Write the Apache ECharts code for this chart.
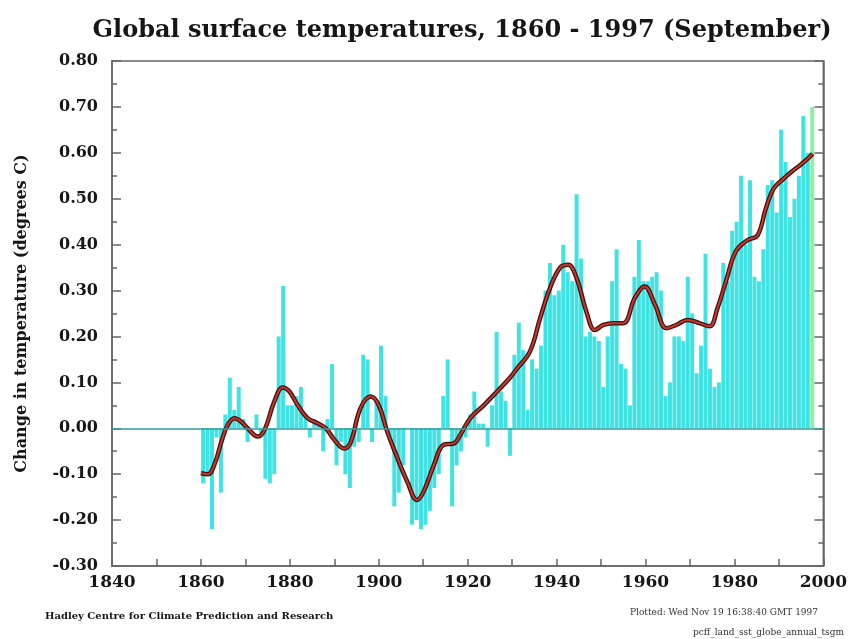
<!DOCTYPE html>
<html>
<head>
<meta charset="utf-8">
<script src="https://cdn.jsdelivr.net/npm/echarts@6/dist/echarts.min.js"></script>
<style>html,body{margin:0;padding:0;background:#fff}#c{width:850px;height:639px}</style>
</head>
<body>
<div id="c"></div>
<script>
// ---- data ----
const firstYear = 1860;
const anomalies = [
  -0.12, -0.10, -0.22, -0.02, -0.14, 0.03, 0.11, 0.04, 0.09, 0.02,
  -0.03, 0.00, 0.03, -0.01, -0.11, -0.12, -0.10, 0.20, 0.31, 0.05,
  0.05, 0.07, 0.09, 0.03, -0.02, 0.02, 0.01, -0.05, 0.02, 0.14,
  -0.08, -0.03, -0.10, -0.13, -0.04, -0.03, 0.16, 0.15, -0.03, 0.06,
  0.18, 0.07, -0.02, -0.17, -0.14, -0.08, 0.00, -0.21, -0.20, -0.22,
  -0.21, -0.18, -0.13, -0.10, 0.07, 0.15, -0.17, -0.08, -0.05, -0.02,
  0.03, 0.08, 0.01, 0.01, -0.04, 0.05, 0.21, 0.08, 0.06, -0.06,
  0.16, 0.23, 0.17, 0.04, 0.15, 0.13, 0.18, 0.30, 0.36, 0.29,
  0.30, 0.40, 0.34, 0.32, 0.51, 0.37, 0.20, 0.21, 0.20, 0.19,
  0.09, 0.20, 0.32, 0.39, 0.14, 0.13, 0.05, 0.33, 0.41, 0.32,
  0.32, 0.33, 0.34, 0.30, 0.07, 0.10, 0.20, 0.20, 0.19, 0.33,
  0.25, 0.12, 0.18, 0.38, 0.13, 0.09, 0.10, 0.36, 0.32, 0.43,
  0.45, 0.55, 0.40, 0.54, 0.33, 0.32, 0.39, 0.53, 0.54, 0.47,
  0.65, 0.58, 0.46, 0.50, 0.55, 0.68, 0.60, 0.70
];
const partialYear = 1997; // drawn in green (data to September)

const curveYears = [
  1860, 1861.6, 1863, 1864.6, 1866, 1867.6, 1869, 1870.5, 1872.8, 1874.3,
  1876.5, 1878.4, 1879.9, 1881.8, 1884, 1886.2, 1888.1, 1890, 1892.2, 1893.7,
  1895.9, 1898.2, 1900, 1901.9, 1904.2, 1906.4, 1908.6, 1910.1, 1912.4, 1914.6,
  1916.9, 1918.3, 1920.6, 1923.6, 1926.6, 1929.5, 1931.1, 1934, 1936.3, 1938.5,
  1940.8, 1942.6, 1944.5, 1946.7, 1948.6, 1950.5, 1952.7, 1955, 1957.6, 1959.8,
  1962.1, 1964.7, 1966.9, 1969.5, 1972.1, 1974.4, 1976.2, 1978.1, 1980.3, 1983,
  1985.2, 1987.1, 1988.9, 1991.2, 1993, 1994.9, 1996.8, 1997.6
];
const curveValues = [
  -0.098, -0.100, -0.080, -0.030, 0.007, 0.022, 0.015, 0.000, -0.018, -0.004,
  0.058, 0.089, 0.080, 0.050, 0.022, 0.011, 0.000, -0.025, -0.044, -0.030,
  0.044, 0.069, 0.050, -0.007, -0.065, -0.116, -0.156, -0.138, -0.080, -0.036,
  -0.033, -0.015, 0.022, 0.050, 0.080, 0.110, 0.130, 0.167, 0.240, 0.305,
  0.350, 0.356, 0.327, 0.254, 0.214, 0.225, 0.229, 0.229, 0.284, 0.309,
  0.270, 0.218, 0.225, 0.236, 0.229, 0.222, 0.262, 0.320, 0.385, 0.410,
  0.420, 0.480, 0.523, 0.545, 0.560, 0.574, 0.590, 0.598
];

const xTicks = { min: 1840, max: 2000, interval: 20 };
const yTicks = { min: -0.3, max: 0.8, interval: 0.1 };

const titleText = 'Global surface temperatures, 1860 - 1997 (September)';
const yName = 'Change in temperature (degrees C)';
const footLeft = 'Hadley Centre for Climate Prediction and Research';
const footRight1 = 'Plotted: Wed Nov 19 16:38:40 GMT 1997';
const footRight2 = 'pcff_land_sst_globe_annual_tsgm';

// ---- chart ----
const FONT = '"DejaVu Serif", "Liberation Serif", serif';
const TXT = '#161616';
const AX = '#666666';

const barData = anomalies.map((v, i) => {
  const yr = firstYear + i;
  const item = { value: [yr + 0.5, v] };
  if (yr === partialYear) item.itemStyle = { color: '#8ef0a6' };
  return item;
});
const curveData = curveYears.map((y, i) => [y, curveValues[i]]);

const chart = echarts.init(document.getElementById('c'), null, { renderer: 'canvas' });
const mkLine = () => ({ show: true, onZero: false, lineStyle: { color: AX, width: 1.5 } });

chart.setOption({
  backgroundColor: '#ffffff',
  animation: false,
  title: [
    { text: titleText, left: 457, top: 14, textAlign: 'center',
      textStyle: { fontFamily: FONT, fontWeight: 'bold', fontSize: 24, color: TXT } },
    { text: footLeft, left: 40, top: 606,
      textStyle: { fontFamily: FONT, fontWeight: 'bold', fontSize: 10, color: TXT } },
    { text: footRight1, left: 625, top: 603,
      textStyle: { fontFamily: FONT, fontWeight: 'normal', fontSize: 9, color: '#333' } },
    { text: footRight2, left: 688, top: 623,
      textStyle: { fontFamily: FONT, fontWeight: 'normal', fontSize: 9, color: '#333' } }
  ],
  grid: { left: 112, right: 26, top: 61, bottom: 73, containLabel: false,
    show: true, borderColor: AX, borderWidth: 1.5, backgroundColor: 'transparent' },
  xAxis: [
    { type: 'value', min: xTicks.min, max: xTicks.max, interval: xTicks.interval,
      position: 'bottom', axisLine: mkLine(),
      axisTick: { show: true, inside: true, length: 7, lineStyle: { color: AX, width: 1.5 } },
      minorTick: { show: true, splitNumber: 2, length: 7, lineStyle: { color: AX, width: 1.5 } },
      splitLine: { show: false },
      axisLabel: { margin: 8, fontFamily: FONT, fontWeight: 'bold', fontSize: 17, color: TXT,
        formatter: v => String(v) } }
  ],
  yAxis: [
    { type: 'value', min: yTicks.min, max: yTicks.max, interval: yTicks.interval,
      position: 'left', axisLine: mkLine(),
      axisTick: { show: true, inside: true, length: 9, lineStyle: { color: AX, width: 1.5 } },
      minorTick: { show: true, splitNumber: 2, length: 5, lineStyle: { color: AX, width: 1.5 } },
      splitLine: { show: false },
      name: yName, nameLocation: 'middle', nameGap: 82, nameRotate: 90,
      nameTextStyle: { fontFamily: FONT, fontWeight: 'bold', fontSize: 16, color: TXT },
      axisLabel: { margin: 14, fontFamily: FONT, fontWeight: 'bold', fontSize: 16, color: TXT,
        formatter: v => v.toFixed(2) } },
    { type: 'value', min: yTicks.min, max: yTicks.max, interval: yTicks.interval,
      position: 'right', axisLine: mkLine(),
      axisTick: { show: true, inside: true, length: 9, lineStyle: { color: AX, width: 1.5 } },
      minorTick: { show: true, splitNumber: 2, length: 5, lineStyle: { color: AX, width: 1.5 } },
      axisLabel: { show: false }, splitLine: { show: false } }
  ],
  series: [
    { type: 'bar', xAxisIndex: 0, yAxisIndex: 0, data: barData, barWidth: 4,
      itemStyle: { color: '#3fe3e3' },
      markLine: { silent: true, symbol: 'none', label: { show: false },
        lineStyle: { color: '#2f9e9e', width: 1.5, type: 'solid' },
        data: [{ yAxis: 0 }] } },
    { type: 'line', xAxisIndex: 0, yAxisIndex: 0, data: curveData, smooth: 0.4,
      showSymbol: false, lineStyle: { color: '#3a1512', width: 4.5 }, z: 3 },
    { type: 'line', xAxisIndex: 0, yAxisIndex: 0, data: curveData, smooth: 0.4,
      showSymbol: false, lineStyle: { color: '#c8352a', width: 2 }, z: 4 }
  ]
});
</script>
</body>
</html>
